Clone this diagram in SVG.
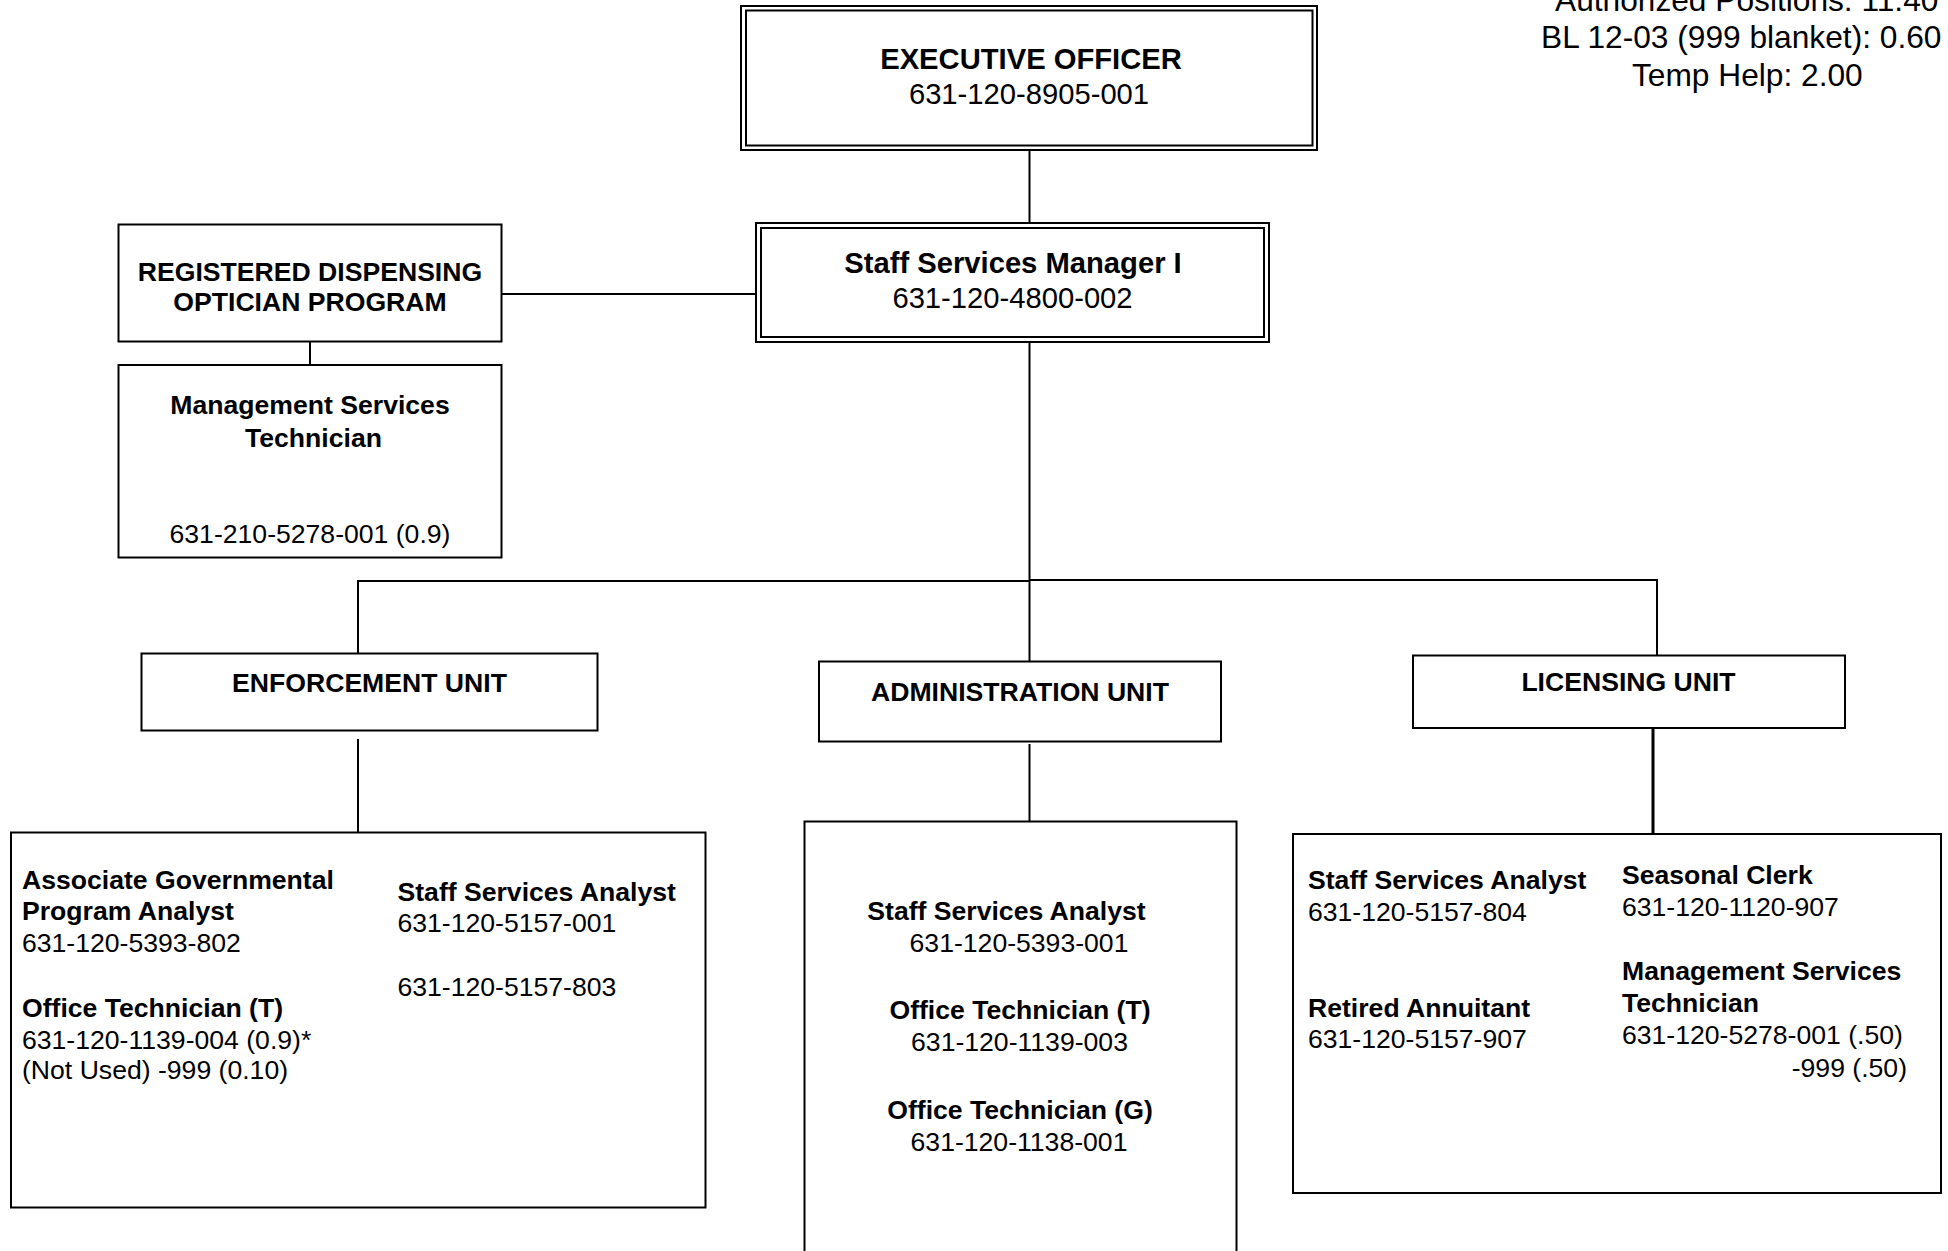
<svg xmlns="http://www.w3.org/2000/svg" width="1948" height="1251" viewBox="0 0 1948 1251">
  <style>
    text { font-family: "Liberation Sans", Arial, sans-serif; fill: #000; }
    .t { font-size: 26.6px; font-weight: bold; }
    .n { font-size: 26.6px; }
    .tl { font-size: 29.2px; font-weight: bold; }
    .nl { font-size: 29.2px; }
    .hd { font-size: 31.7px; }
    .c { text-anchor: middle; }
    .box { fill: #fff; stroke: #000; stroke-width: 2; }
    .wire { fill: none; stroke: #000; stroke-width: 2; }
  </style>
  <rect x="0" y="0" width="1948" height="1251" fill="#fff"/>

  <!-- position totals, top right -->
  <g id="totals">
    <text class="hd" x="1555" y="11">Authorized Positions: 11.40</text>
    <text class="hd" x="1541" y="48">BL 12-03 (999 blanket): 0.60</text>
    <text class="hd" x="1632" y="86">Temp Help: 2.00</text>
  </g>

  <!-- connectors -->
  <g id="connectors">
    <line class="wire" x1="1029.5" y1="150" x2="1029.5" y2="224"/>
    <line class="wire" x1="502" y1="294" x2="757" y2="294"/>
    <line class="wire" x1="310" y1="342" x2="310" y2="365"/>
    <line class="wire" x1="1029.5" y1="342" x2="1029.5" y2="661"/>
    <polyline class="wire" points="358,653 358,581 1029.5,581"/>
    <polyline class="wire" points="1029.5,580 1657,580 1657,656"/>
    <line class="wire" x1="358" y1="739" x2="358" y2="832"/>
    <line class="wire" x1="1029.5" y1="744" x2="1029.5" y2="822"/>
    <line class="wire" x1="1653" y1="728" x2="1653" y2="834" style="stroke-width:3"/>
  </g>

  <g id="executive-officer">
    <rect class="box" x="741" y="6" width="576" height="144"/>
    <rect class="box" x="746" y="10.5" width="566.5" height="135"/>
    <text class="tl c" x="1031" y="69">EXECUTIVE OFFICER</text>
    <text class="nl c" x="1029" y="104">631-120-8905-001</text>
  </g>

  <g id="staff-services-manager">
    <rect class="box" x="756" y="223" width="513" height="119"/>
    <rect class="box" x="761" y="228" width="503" height="109"/>
    <text class="tl c" x="1013" y="273">Staff Services Manager I</text>
    <text class="nl c" x="1012.5" y="308">631-120-4800-002</text>
  </g>

  <g id="rdo-program">
    <rect class="box" x="118.5" y="224.5" width="383" height="117"/>
    <text class="t c" x="310" y="281">REGISTERED DISPENSING</text>
    <text class="t c" x="310" y="311">OPTICIAN PROGRAM</text>
  </g>

  <g id="rdo-technician">
    <rect class="box" x="118.5" y="365" width="383" height="192.5"/>
    <text class="t c" x="310" y="414">Management Services</text>
    <text class="t c" x="313.5" y="446.5">Technician</text>
    <text class="n c" x="310" y="543">631-210-5278-001 (0.9)</text>
  </g>

  <g id="enforcement-unit">
    <rect class="box" x="141.5" y="653.5" width="456" height="77"/>
    <text class="t c" x="369.5" y="692">ENFORCEMENT UNIT</text>
  </g>

  <g id="administration-unit">
    <rect class="box" x="819" y="661.5" width="402" height="80"/>
    <text class="t c" x="1020" y="700.5">ADMINISTRATION UNIT</text>
  </g>

  <g id="licensing-unit">
    <rect class="box" x="1413" y="655.5" width="432" height="72.5"/>
    <text class="t c" x="1628.5" y="690.5">LICENSING UNIT</text>
  </g>

  <g id="enforcement-staff">
    <rect class="box" x="11" y="832.5" width="694.5" height="375"/>
    <text class="t" x="22" y="888.5">Associate Governmental</text>
    <text class="t" x="22" y="920">Program Analyst</text>
    <text class="n" x="22" y="952">631-120-5393-802</text>
    <text class="t" x="22" y="1017">Office Technician (T)</text>
    <text class="n" x="22" y="1048.5">631-120-1139-004 (0.9)*</text>
    <text class="n" x="22" y="1079">(Not Used) -999 (0.10)</text>
    <text class="t" x="397.5" y="900.5">Staff Services Analyst</text>
    <text class="n" x="397.5" y="932">631-120-5157-001</text>
    <text class="n" x="397.5" y="995.5">631-120-5157-803</text>
  </g>

  <g id="administration-staff">
    <rect class="box" x="804.5" y="821.5" width="432" height="445"/>
    <text class="t c" x="1006.5" y="920">Staff Services Analyst</text>
    <text class="n c" x="1019" y="952">631-120-5393-001</text>
    <text class="t c" x="1020" y="1019">Office Technician (T)</text>
    <text class="n c" x="1019.5" y="1051">631-120-1139-003</text>
    <text class="t c" x="1020" y="1118.5">Office Technician (G)</text>
    <text class="n c" x="1019" y="1150.5">631-120-1138-001</text>
  </g>

  <g id="licensing-staff">
    <rect class="box" x="1293" y="834" width="648" height="359"/>
    <text class="t" x="1308" y="888.5">Staff Services Analyst</text>
    <text class="n" x="1308" y="920.5">631-120-5157-804</text>
    <text class="t" x="1308" y="1017">Retired Annuitant</text>
    <text class="n" x="1308" y="1048">631-120-5157-907</text>
    <text class="t" x="1622" y="884">Seasonal Clerk</text>
    <text class="n" x="1622" y="916">631-120-1120-907</text>
    <text class="t" x="1622" y="979.5">Management Services</text>
    <text class="t" x="1622" y="1011.5">Technician</text>
    <text class="n" x="1622" y="1043.5">631-120-5278-001 (.50)</text>
    <text class="n" x="1907" y="1076.5" style="text-anchor:end">-999 (.50)</text>
  </g>
</svg>
